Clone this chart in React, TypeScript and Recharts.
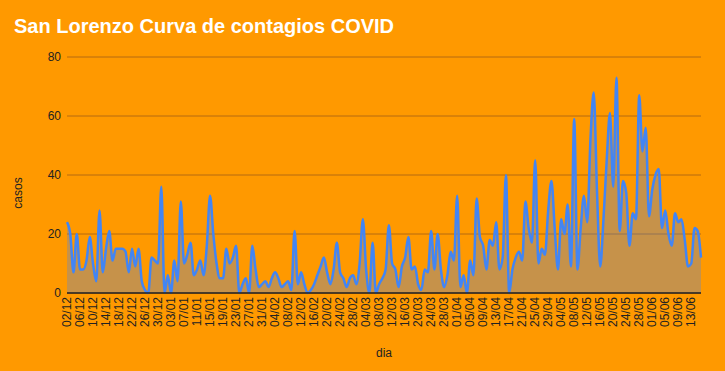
import { AreaChart, Area, XAxis, YAxis, CartesianGrid } from 'recharts';

// daily cases, 02/12 to 16/06 (01/05 missing in the source sheet)
const MONTHS: [string, number][] = [
  ['12', 31], ['01', 31], ['02', 28], ['03', 31], ['04', 30], ['05', 31], ['06', 16],
];
const START_DAY = 2;
const SKIPPED = ['01/05'];

const casos = [
  24, 20, 7, 20, 8, 8, 11, 19, 10, 4,
  28, 7, 15, 21, 11, 15, 15, 15, 14, 7,
  15, 9, 15, 4, 1, 0, 12, 11, 10, 36,
  0, 6, 0, 11, 4, 31, 10, 13, 17, 6,
  8, 11, 6, 16, 33, 20, 10, 5, 5, 15,
  10, 12, 16, 0, 3, 5, 0, 16, 8, 2,
  3, 4, 2, 5, 7, 5, 2, 3, 4, 1,
  21, 3, 7, 3, 0, 1, 3, 6, 9, 12,
  7, 3, 8, 17, 7, 5, 2, 5, 6, 3,
  10, 25, 8, 0, 17, 0, 3, 5, 8, 23,
  10, 8, 2, 9, 12, 19, 8, 9, 3, 1,
  8, 7, 21, 8, 20, 8, 2, 6, 14, 11,
  33, 2, 6, 0, 11, 6, 32, 19, 16, 8,
  18, 16, 24, 8, 12, 40, 0, 8, 12, 14,
  11, 31, 22, 17, 45, 10, 15, 13, 28, 38,
  22, 8, 25, 20, 30, 9, 59, 8, 22, 33,
  24, 52, 68, 35, 9, 25, 45, 61, 36, 73,
  21, 38, 34, 16, 27, 25, 67, 48, 56, 26,
  35, 40, 42, 22, 28, 20, 16, 27, 24, 25,
  18, 9, 10, 22, 21, 12,
];

const yTicks = [0, 20, 40, 60, 80];

function buildDays(): string[] {
  const out: string[] = [];
  MONTHS.forEach(([m, n], mi) => {
    for (let d = mi === 0 ? START_DAY : 1; d <= n; d++) {
      const lbl = `${String(d).padStart(2, '0')}/${m}`;
      if (!SKIPPED.includes(lbl)) out.push(lbl);
    }
  });
  return out;
}

const dias = buildDays();
const data = dias.map((dia, i) => ({ dia, casos: casos[i] }));

const FONT = '"Liberation Sans", Arial, sans-serif';
const BG = '#ff9900';

function DateTick({ x, y, payload }: any) {
  return (
    <g transform={`translate(${x},${y})`}>
      <text
        transform="rotate(-90)"
        textAnchor="end"
        dy="0.35em"
        fontSize={12}
        fontFamily={FONT}
        fill="#222"
      >
        {payload.value}
      </text>
    </g>
  );
}

export default function App() {
  return (
    <div style={{ position: 'absolute', left: 0, top: 0, width: 725, height: 371, background: BG }}>
      <AreaChart
        width={725}
        height={371}
        data={data}
        margin={{ top: 57, right: 24, bottom: 0, left: 0 }}
      >
        <CartesianGrid vertical={false} stroke="#b56b10" />
        <XAxis
          dataKey="dia"
          interval={3}
          height={78}
          tick={<DateTick />}
          tickLine={false}
          tickSize={0}
          tickMargin={4}
          axisLine={{ stroke: '#222', strokeWidth: 1.5 }}
        />
        <YAxis
          width={67}
          domain={[0, 80]}
          ticks={yTicks}
          axisLine={false}
          tickLine={false}
          tickSize={0}
          tickMargin={6}
          tick={{ fill: '#222', fontSize: 12, fontFamily: FONT }}
        />
        <Area
          type="monotone"
          dataKey="casos"
          stroke="#4285f4"
          strokeWidth={2.5}
          fill="#4285f4"
          fillOpacity={0.3}
          isAnimationActive={false}
          dot={false}
          activeDot={false}
        />
      </AreaChart>
      <svg
        width={725}
        height={371}
        style={{ position: 'absolute', left: 0, top: 0, pointerEvents: 'none' }}
      >
        <text x={14} y={33} fill="#fff" fontSize={20} fontWeight="bold" fontFamily={FONT}>
          San Lorenzo Curva de contagios COVID
        </text>
        <text
          x={18}
          y={193}
          transform="rotate(-90 18 193)"
          textAnchor="middle"
          dy="0.35em"
          fontSize={12}
          fontFamily={FONT}
          fill="#222"
        >
          casos
        </text>
        <text x={384} y={357} textAnchor="middle" fontSize={12} fontFamily={FONT} fill="#222">
          dia
        </text>
      </svg>
    </div>
  );
}
